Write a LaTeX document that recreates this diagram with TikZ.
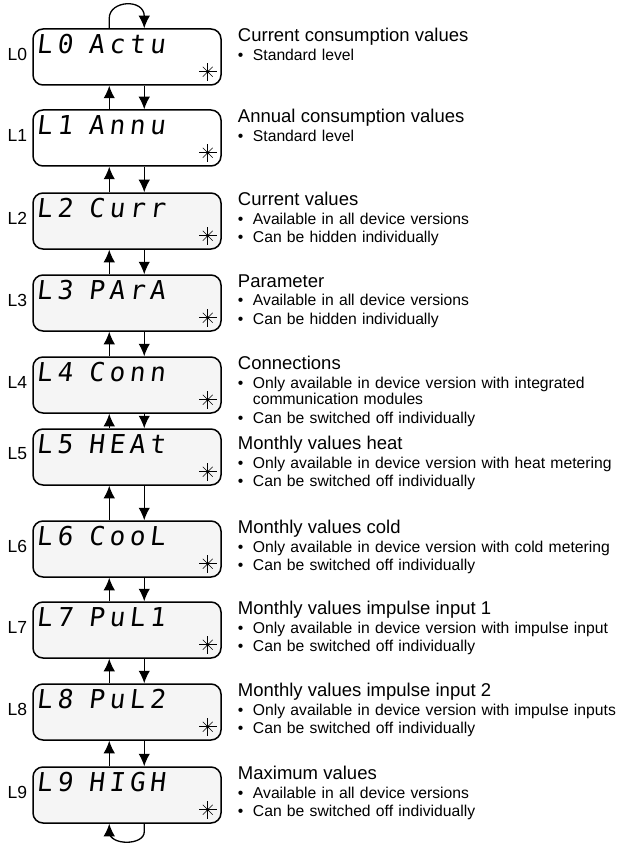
\documentclass[tikz,border=0pt]{standalone}
\usepackage{fontspec}
\setmainfont{Liberation Sans}
\newfontfamily\segfont[FakeSlant=0.12,LetterSpace=18]{DejaVu Sans Mono}
\usepackage{tikz}
\usetikzlibrary{arrows.meta,positioning}
\newcommand{\infohead}[1]{{\fontsize{18.5}{19}\selectfont #1\par}}
\newcommand{\bul}[1]{\vspace{2pt}\hangindent=15pt\hangafter=1\noindent\makebox[15pt][l]{\textbullet}#1\par}
\tikzset{
  DispBox/.style = {rectangle, draw=black, line width=1.5pt, rounded corners=10pt, minimum width=188pt, minimum height=56pt, inner sep=0pt},
  WhiteBox/.style = {DispBox, fill=white},
  GreyBox/.style = {DispBox, fill=gray!8},
  LevelLabel/.style = {font=\fontsize{17.5}{17.5}\selectfont, inner sep=0pt},
  SegText/.style = {font=\segfont\fontsize{26}{26}\selectfont, inner sep=0pt},
  InfoText/.style = {align=left, text width=390pt, inner sep=0pt, font=\fontsize{15.7}{16.5}\selectfont, execute at begin node={\hyphenpenalty=10000\relax}},
  StepArrow/.style = {-{Latex[length=12.5pt,width=11.5pt]}, line width=1.3pt},
  dispstar/.pic = {
    \foreach \a in {0,90,180,270} \draw[line width=0.9pt] (0,0) -- (\a:9);
    \foreach \a in {45,135,225,315} \draw[line width=0.5pt] (0,0) -- (\a:7);
    \fill (0,0) circle (1.8);
  },
}
\begin{document}
\begin{tikzpicture}[x=1pt, y=-1pt]
\useasboundingbox (0,0) rectangle (617,845);
% display levels
\node[WhiteBox] (b0) at (127,57) {};
\node[WhiteBox, below=23.5pt of b0] (b1) {};
\node[GreyBox, below=25.5pt of b1] (b2) {};
\node[GreyBox, below=24.5pt of b2] (b3) {};
\node[GreyBox, below=24.5pt of b3] (b4) {};
\node[GreyBox, below=14.5pt of b4] (b5) {};
\node[GreyBox, below=34.5pt of b5] (b6) {};
\node[GreyBox, below=23.5pt of b6] (b7) {};
\node[GreyBox, below=24.5pt of b7] (b8) {};
\node[GreyBox, below=25.5pt of b8] (b9) {};
% level names left of the displays
\node[LevelLabel, left=5pt of b0, yshift=3pt] (l0) {L0};
\node[LevelLabel, left=5pt of b1, yshift=3pt] (l1) {L1};
\node[LevelLabel, left=5pt of b2, yshift=3pt] (l2) {L2};
\node[LevelLabel, left=5pt of b3, yshift=3pt] (l3) {L3};
\node[LevelLabel, left=5pt of b4, yshift=3pt] (l4) {L4};
\node[LevelLabel, left=5pt of b5, yshift=3pt] (l5) {L5};
\node[LevelLabel, left=5pt of b6, yshift=3pt] (l6) {L6};
\node[LevelLabel, left=5pt of b7, yshift=3pt] (l7) {L7};
\node[LevelLabel, left=5pt of b8, yshift=3pt] (l8) {L8};
\node[LevelLabel, left=5pt of b9, yshift=3pt] (l9) {L9};
% segment display contents
\node[SegText, below right=6pt and 4pt of b0.north west] (c0) {L0};
\node[SegText, below right=6pt and 56pt of b0.north west] (w0) {Actu};
\node[SegText, below right=6pt and 4pt of b1.north west] (c1) {L1};
\node[SegText, below right=6pt and 56pt of b1.north west] (w1) {Annu};
\node[SegText, below right=6pt and 4pt of b2.north west] (c2) {L2};
\node[SegText, below right=6pt and 56pt of b2.north west] (w2) {Curr};
\node[SegText, below right=6pt and 4pt of b3.north west] (c3) {L3};
\node[SegText, below right=6pt and 56pt of b3.north west] (w3) {PArA};
\node[SegText, below right=6pt and 4pt of b4.north west] (c4) {L4};
\node[SegText, below right=6pt and 56pt of b4.north west] (w4) {Conn};
\node[SegText, below right=6pt and 4pt of b5.north west] (c5) {L5};
\node[SegText, below right=6pt and 56pt of b5.north west] (w5) {HEAt};
\node[SegText, below right=6pt and 4pt of b6.north west] (c6) {L6};
\node[SegText, below right=6pt and 56pt of b6.north west] (w6) {CooL};
\node[SegText, below right=6pt and 4pt of b7.north west] (c7) {L7};
\node[SegText, below right=6pt and 56pt of b7.north west] (w7) {PuL1};
\node[SegText, below right=6pt and 4pt of b8.north west] (c8) {L8};
\node[SegText, below right=6pt and 56pt of b8.north west] (w8) {PuL2};
\node[SegText, below right=6pt and 4pt of b9.north west] (c9) {L9};
\node[SegText, below right=6pt and 56pt of b9.north west] (w9) {HIGH};
\foreach \i in {0,...,9} \pic at ([xshift=-14pt,yshift=14pt]b\i.south east) {dispstar};
% up and down keys between levels
\foreach \a/\b in {0/1,1/2,2/3,3/4,4/5,5/6,6/7,7/8,8/9} {
  \draw[StepArrow] ([xshift=77pt]b\b.north west) -- ([xshift=77pt]b\a.south west);
  \draw[StepArrow] ([xshift=112pt]b\a.south west) -- ([xshift=112pt]b\b.north west);
}
\draw[StepArrow] ([xshift=77pt]b0.north west) -- ++(0,-10) .. controls +(0,-18) and +(0,-18) .. ([xshift=112pt,yshift=12pt]b0.north west) -- ([xshift=112pt]b0.north west);
\draw[StepArrow] ([xshift=112pt]b9.south west) -- ++(0,8) .. controls +(0,14) and +(0,14) .. ([xshift=77pt,yshift=-8pt]b9.south west) -- ([xshift=77pt]b9.south west);
% descriptions
\node[InfoText, below right=0pt and 16pt of b0.north east] (t0) {\infohead{Current consumption values}\bul{Standard level}};
\node[InfoText, below right=0pt and 16pt of b1.north east] (t1) {\infohead{Annual consumption values}\bul{Standard level}};
\node[InfoText, below right=0pt and 16pt of b2.north east] (t2) {\infohead{Current values}\bul{Available in all device versions}\bul{Can be hidden individually}};
\node[InfoText, below right=0pt and 16pt of b3.north east] (t3) {\infohead{Parameter}\bul{Available in all device versions}\bul{Can be hidden individually}};
\node[InfoText, below right=0pt and 16pt of b4.north east] (t4) {\infohead{Connections}\bul{Only available in device version with integrated communication modules}\bul{Can be switched off individually}};
\node[InfoText, below right=8pt and 16pt of b5.north east] (t5) {\infohead{Monthly values heat}\bul{Only available in device version with heat metering}\bul{Can be switched off individually}};
\node[InfoText, below right=0pt and 16pt of b6.north east] (t6) {\infohead{Monthly values cold}\bul{Only available in device version with cold metering}\bul{Can be switched off individually}};
\node[InfoText, below right=0pt and 16pt of b7.north east] (t7) {\infohead{Monthly values impulse input 1}\bul{Only available in device version with impulse input}\bul{Can be switched off individually}};
\node[InfoText, below right=0pt and 16pt of b8.north east] (t8) {\infohead{Monthly values impulse input 2}\bul{Only available in device version with impulse inputs}\bul{Can be switched off individually}};
\node[InfoText, below right=0pt and 16pt of b9.north east] (t9) {\infohead{Maximum values}\bul{Available in all device versions}\bul{Can be switched off individually}};
\end{tikzpicture}
\end{document}
